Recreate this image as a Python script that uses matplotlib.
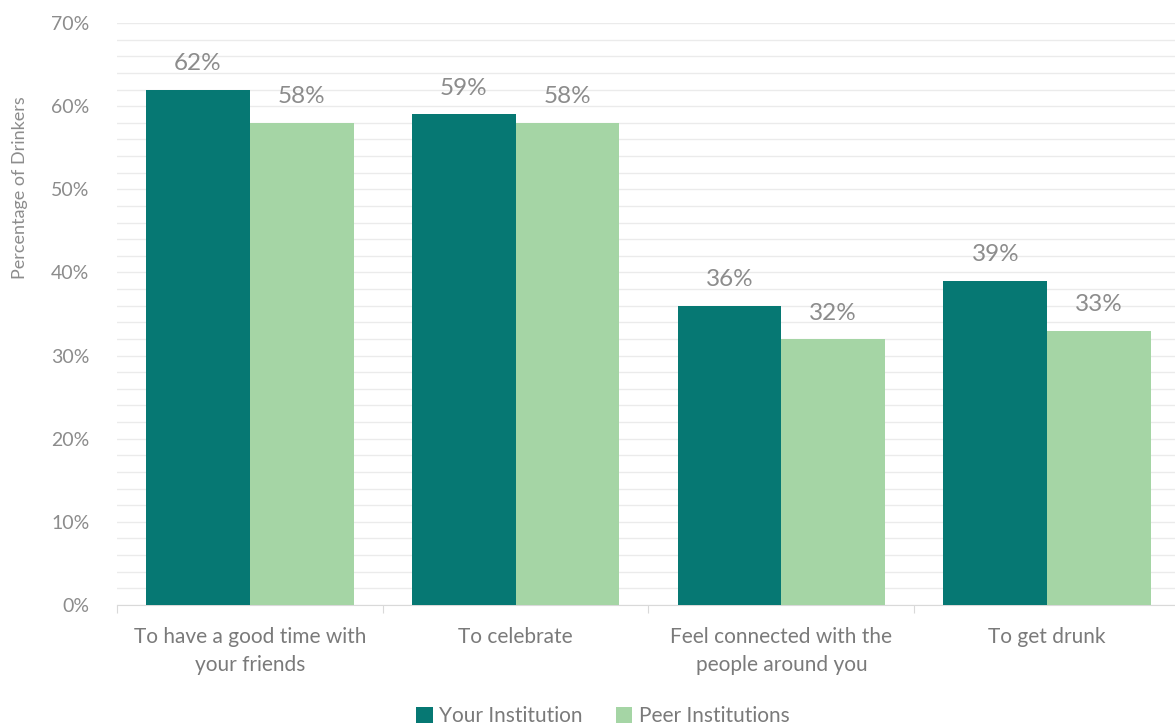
import numpy as np
import matplotlib
matplotlib.use('Agg')
from matplotlib import pyplot as plt
from matplotlib.ticker import MultipleLocator, FuncFormatter

plt.rcParams['font.family'] = ['Lato', 'DejaVu Sans']

#data
categories = ['To have a good time with\nyour friends', 'To celebrate',
              'Feel connected with the\npeople around you', 'To get drunk']
your_inst = [62, 59, 36, 39]
peer_inst = [58, 58, 32, 33]

dark = '#067873'
light = '#a5d5a5'
grey = '#8c8c8c'

x = np.arange(len(categories))
width = 0.39

fig = plt.figure(figsize=(11.75, 7.26), dpi=100)
ax = fig.add_axes([117/1175, 1 - 605/726, (1180 - 117)/1175, (605 - 23)/726])

bar1 = ax.bar(x - width/2, your_inst, width, color=dark, label='Your Institution', zorder=3)
bar2 = ax.bar(x + width/2, peer_inst, width, color=light, label='Peer Institutions', zorder=3)

for bars in (bar1, bar2):
    for b in bars:
        ax.annotate(f'{b.get_height():.0f}%', (b.get_x() + b.get_width()/2, b.get_height()),
                    xytext=(0, 11), textcoords='offset points', ha='center', va='bottom',
                    fontsize=17.5, color=grey)

ax.set_xlim(-0.5, len(categories) - 0.5)
ax.set_ylim(0, 70)
ax.yaxis.set_major_locator(MultipleLocator(10))
ax.yaxis.set_minor_locator(MultipleLocator(2))
ax.yaxis.set_major_formatter(FuncFormatter(lambda v, p: f'{v:.0f}%'))
ax.grid(axis='y', which='both', color='#ebebeb', lw=1, zorder=0)
ax.tick_params(axis='y', which='both', length=0, labelsize=14, labelcolor=grey, pad=20)

# category labels between boundary ticks
ax.set_xticks(np.arange(len(categories) + 1) - 0.5)
ax.set_xticklabels([])
ax.tick_params(axis='x', length=6, color='#d9d9d9')
for i, c in enumerate(categories):
    ax.text(i, -2.7, c, ha='center', va='top', fontsize=15, color='#7a7a7a',
            linespacing=1.5, transform=ax.transData)

for s in ['top', 'right', 'left']:
    ax.spines[s].set_visible(False)
ax.spines['bottom'].set_color('#d9d9d9')

fig.text(20/1175, 1 - 188/726, 'Percentage of Drinkers', rotation=90, ha='center', va='center',
         fontsize=13, color=grey)

fig.legend(loc='center', bbox_to_anchor=(0.513, 1 - 716/726), ncol=2, frameon=False,
           fontsize=15, labelcolor='#7a7a7a', handlelength=0.8, handleheight=0.8,
           handletextpad=0.3, columnspacing=1.6)

fig.savefig('out.png', dpi=100)
